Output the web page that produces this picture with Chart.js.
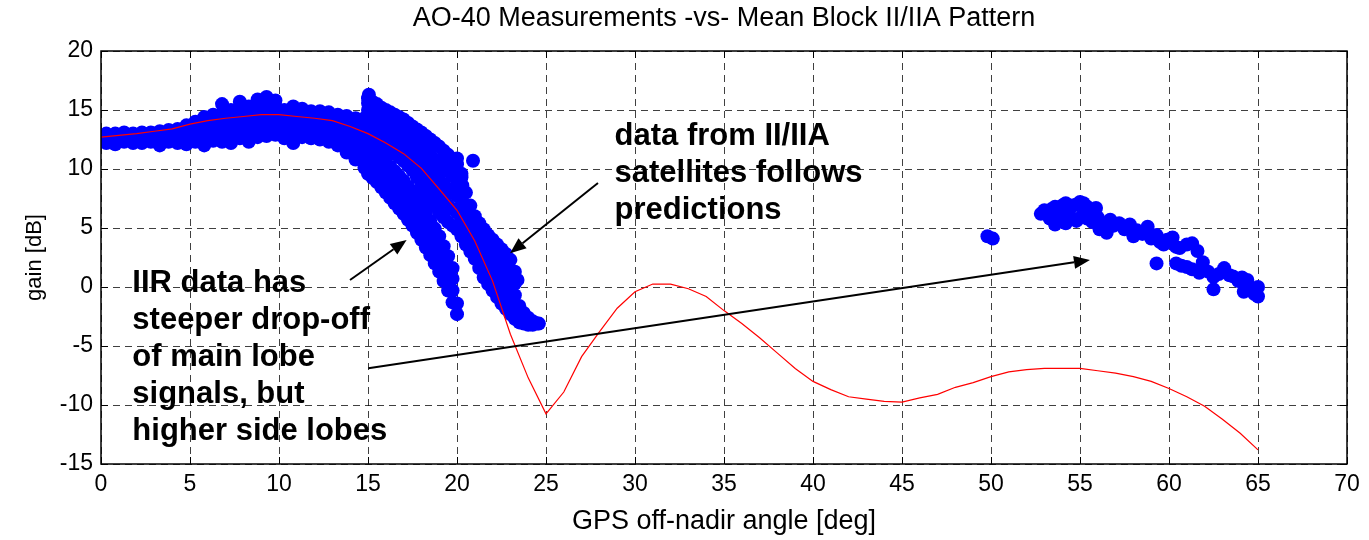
<!DOCTYPE html>
<html>
<head>
<meta charset="utf-8">
<title>AO-40 Measurements -vs- Mean Block II/IIA Pattern</title>
<script src="https://cdn.jsdelivr.net/npm/chart.js@4.4.0/dist/chart.umd.min.js"></script>
<style>
  html, body { margin: 0; padding: 0; background: #fff; }
  canvas { display: block; }
</style>
</head>
<body>
<canvas id="chart" width="1369" height="540"></canvas>
<script>
// mean Block II/IIA antenna pattern (red line), one value per degree
const patternAngle = [0, 1, 2, 3, 4, 5, 6, 7, 8, 9, 10, 11, 12, 13, 14, 15, 16, 17, 18, 19, 20,
  21, 22, 23, 24, 25, 26, 27, 28, 29, 30, 31, 32, 33, 34, 35, 36, 37, 38, 39, 40,
  41, 42, 43, 44, 45, 46, 47, 48, 49, 50, 51, 52, 53, 54, 55, 56, 57, 58, 59, 60,
  61, 62, 63, 64, 65];
const patternGain = [12.7, 12.85, 13.0, 13.2, 13.4, 13.8, 14.1, 14.3, 14.45, 14.6, 14.6,
  14.45, 14.3, 14.1, 13.6, 13.0, 12.2, 11.3, 10.05, 8.3, 6.5,
  3.9, 0.5, -4.0, -7.7, -10.75, -8.9, -5.9, -3.8, -1.8, -0.4,
  0.25, 0.25, -0.15, -0.8, -2.0, -3.1, -4.3, -5.6, -6.9, -8.0,
  -8.7, -9.3, -9.5, -9.7, -9.75, -9.4, -9.1, -8.5, -8.1, -7.6,
  -7.2, -7.0, -6.9, -6.9, -6.9, -7.1, -7.3, -7.6, -8.0, -8.6,
  -9.3, -10.1, -11.2, -12.4, -13.8];

// AO-40 measurements, main lobe: [angle, gain, gain, ...]
const mainLobe = [
  [0.3, 12.2, 12.7, 13.0], [0.8, 12.1, 12.6, 13.0], [1.3, 12.3, 12.7, 13.1],
  [1.8, 12.2, 12.6, 13.0], [2.3, 12.2, 12.7, 13.1], [2.8, 12.3, 12.7, 13.1],
  [3.3, 12.0, 12.6, 13.2], [3.8, 12.3, 12.8, 13.3], [4.3, 12.2, 12.8, 13.4],
  [4.8, 12.1, 12.7, 13.3, 13.7], [5.3, 12.3, 12.9, 13.5, 14.0],
  [5.8, 12.0, 12.6, 13.2, 13.8, 14.4], [6.3, 12.4, 13.0, 13.6, 14.2, 14.6],
  [6.8, 12.3, 12.9, 13.5, 14.1, 14.7, 15.5], [7.3, 12.2, 12.8, 13.4, 14.0, 14.6, 15.0],
  [7.8, 12.6, 13.2, 13.8, 14.4, 15.0, 15.7], [8.3, 12.3, 12.9, 13.5, 14.1, 14.7, 15.3],
  [8.8, 12.7, 13.3, 13.9, 14.5, 15.1, 15.9], [9.3, 12.8, 13.4, 14.0, 14.6, 15.2, 16.1],
  [9.8, 12.9, 13.5, 14.1, 14.7, 15.3, 15.8], [10.3, 12.6, 13.2, 13.8, 14.4, 15.0],
  [10.8, 12.2, 12.9, 13.5, 14.1, 14.7, 15.3], [11.3, 12.7, 13.3, 13.9, 14.5, 15.1],
  [11.8, 12.6, 13.2, 13.8, 14.4, 14.9], [12.3, 12.5, 13.1, 13.7, 14.3, 14.9],
  [12.8, 12.3, 12.9, 13.5, 14.1, 14.8], [13.3, 12.0, 12.7, 13.3, 13.9, 14.6],
  [13.8, 11.4, 12.1, 12.8, 13.5, 14.2, 14.5], [14.3, 10.8, 11.5, 12.2, 12.9, 13.6, 14.3],
  [14.8, 10.1, 10.8, 11.5, 12.2, 12.9, 13.6, 14.3]
];

// IIR satellites, steeper drop-off
const iirLobe = [
  [15.0, 9.6, 10.4, 11.2, 12.0], [15.25, 9.25, 10.0, 10.8, 11.6], [15.5, 8.9, 9.7, 10.5, 11.3],
  [15.75, 8.45, 9.2, 10.0, 10.9], [16.0, 8.0, 8.9, 9.7, 10.6], [16.25, 7.55, 8.4, 9.3, 10.2],
  [16.5, 7.1, 8.0, 8.9, 9.8], [16.75, 6.65, 7.5, 8.5, 9.4], [17.0, 6.2, 7.1, 8.0, 9.0],
  [17.25, 5.7, 6.6, 7.6, 8.5], [17.5, 5.2, 6.2, 7.1, 8.1], [17.75, 4.6, 5.5, 6.5, 7.5],
  [18.0, 4.0, 5.0, 5.9, 6.9], [18.25, 3.35, 4.3, 5.3, 6.25], [18.5, 2.7, 3.7, 4.6, 5.6],
  [18.75, 2.0, 3.0, 4.0, 4.95], [19.0, 1.3, 2.3, 3.3, 4.3], [19.25, 0.5, 1.5, 2.5, 3.45],
  [19.5, -0.3, 0.7, 1.7, 2.6], [19.75, -1.3, -0.3, 0.7, 1.6], [20.0, -2.3, -1.4]
];

// Block II/IIA satellites, follow the prediction
const blockLobe = [
  [15.0, 12.6, 13.4, 14.2, 15.0, 15.6, 16.0], [15.05, 16.3],
  [15.25, 12.4, 13.2, 14.0, 14.8, 15.7], [15.5, 12.2, 13.0, 13.8, 14.6, 15.5],
  [15.75, 12.0, 12.8, 13.6, 14.4, 15.2], [16.0, 11.8, 12.6, 13.4, 14.2, 15.0],
  [16.25, 11.5, 12.3, 13.1, 13.9, 14.8], [16.5, 11.3, 12.1, 12.9, 13.8, 14.6],
  [16.75, 11.0, 11.8, 12.7, 13.6, 14.4], [17.0, 10.7, 11.6, 12.4, 13.3, 14.2],
  [17.25, 10.3, 11.2, 12.1, 13.0, 13.9], [17.5, 9.9, 10.8, 11.8, 12.7, 13.6],
  [17.75, 9.3, 10.3, 11.3, 12.3, 13.35], [18.0, 8.6, 9.7, 10.8, 11.9, 13.1],
  [18.25, 8.0, 9.2, 10.4, 11.6, 12.8], [18.5, 7.4, 8.7, 10.0, 11.2, 12.5],
  [18.75, 6.85, 8.2, 9.5, 10.8, 12.2], [19.0, 6.3, 7.7, 9.1, 10.5, 11.9],
  [19.25, 5.9, 7.3, 8.7, 10.1, 11.55], [19.5, 5.5, 6.9, 8.3, 9.8, 11.2],
  [19.75, 5.2, 6.6, 8.0, 9.4, 10.8], [20.0, 4.9, 6.3, 7.7, 9.0, 10.4, 10.9],
  [20.25, 4.3, 5.6, 6.9, 8.1, 9.3, 9.6], [20.3, 8.6], [20.9, 10.7],
  [20.5, 3.6, 4.7, 5.8, 6.9, 8.0], [20.75, 3.0, 4.0, 5.0, 6.0, 6.9],
  [21.0, 2.4, 3.3, 4.2, 5.1, 6.0], [21.25, 1.6, 2.6, 3.5, 4.5, 5.4],
  [21.5, 0.8, 1.8, 2.9, 3.9, 4.9], [21.75, 0.25, 1.3, 2.3, 3.4, 4.4],
  [22.0, -0.3, 0.8, 1.9, 3.0, 4.0], [22.25, -0.85, 0.3, 1.4, 2.5, 3.6],
  [22.5, -1.4, -0.3, 0.9, 2.0, 3.2], [22.75, -1.85, -0.7, 0.5, 1.6, 2.8],
  [23.0, -2.3, -1.2, 0.0, 1.2, 2.3], [23.25, -2.7, -1.7, -0.7, 0.3, 1.3],
  [23.4, 0.6], [23.5, -3.0, -2.3, -1.6], [23.75, -3.1, -2.2], [24.0, -3.2, -2.6],
  [24.25, -3.2, -2.9], [24.5, -3.1], [24.6, -3.1]
];

// side lobe measurements
const sideLobeAngle = [49.8, 50.1,
  52.8, 53.0, 53.2, 53.4, 53.6, 53.8, 54.0, 54.2, 54.4, 54.6, 54.8, 55.0, 55.2, 55.4, 55.6, 55.9,
  53.3, 53.6, 53.9, 54.2, 54.5, 54.8, 55.1, 55.4, 55.7, 56.0, 56.1, 56.3, 56.5, 56.7, 56.9,
  57.2, 57.5, 57.8, 58.0, 58.2, 58.5, 58.8, 59.0, 59.3, 59.5, 59.7, 59.9, 60.2, 60.4, 60.6,
  61.0, 61.3, 61.6,
  59.3, 60.4, 60.7, 61.0, 61.3, 61.7, 61.9, 62.2, 62.5, 62.5, 62.8, 63.1, 63.4, 63.6, 63.9,
  64.1, 64.4, 64.2, 64.5, 64.7, 65.0, 65.0, 64.8];
const sideLobeGain = [4.3, 4.1,
  6.2, 6.5, 6.3, 6.6, 6.8, 6.4, 6.9, 7.1, 6.6, 6.9, 7.0, 7.2, 7.1, 6.8, 6.5, 6.7,
  5.8, 5.3, 5.8, 5.4, 5.9, 5.6, 6.0, 5.8, 5.5, 5.9, 4.9, 5.4, 4.6, 5.7, 5.2,
  5.4, 4.9, 5.3, 4.3, 4.8, 4.5, 5.1, 4.1, 4.4, 3.8, 3.6, 4.0, 4.2, 3.4, 3.3,
  3.6, 3.7, 3.05,
  2.0, 2.0, 1.8, 1.7, 1.5, 1.2, 2.1, 1.3, 0.85, -0.2, 1.1, 1.6, 1.0, 0.9, 0.5,
  0.8, 0.6, -0.4, 0.0, -0.2, -0.8, 0.0, -0.6];

const xTicks = [0, 5, 10, 15, 20, 25, 30, 35, 40, 45, 50, 55, 60, 65, 70];
const yTicks = [-15, -10, -5, 0, 5, 10, 15, 20];

function colsToPoints(cols) {
  const pts = [];
  cols.forEach(c => {
    for (let i = 1; i < c.length; i++) pts.push({ x: c[0], y: c[i] });
  });
  return pts;
}

const measured = colsToPoints(mainLobe)
  .concat(colsToPoints(iirLobe))
  .concat(colsToPoints(blockLobe))
  .concat(sideLobeAngle.map((a, i) => ({ x: a, y: sideLobeGain[i] })));

const pattern = patternAngle.map((a, i) => ({ x: a, y: patternGain[i] }));

// text + arrows, placed in data units
const notes = [
  { x: 28.85, y: 12.03, lines: ['data from II/IIA', 'satellites follows', 'predictions'] },
  { x: 1.76, y: -0.45, lines: ['IIR data has', 'steeper drop-off', 'of main lobe', 'signals, but', 'higher side lobes'] }
];
const arrows = [
  { from: [13.99, 0.59], to: [17.17, 3.98] },
  { from: [27.92, 8.81], to: [22.98, 2.86] },
  { from: [15.02, -6.89], to: [55.56, 2.29] }
];

const FONT = '"Liberation Sans", Arial, Helvetica, sans-serif';
Chart.defaults.font.family = FONT;
Chart.defaults.color = '#000';

const matlabAxes = {
  id: 'matlabAxes',
  afterDatasetsDraw(chart) {
    const { ctx, chartArea: a, scales: { x, y } } = chart;
    ctx.save();
    ctx.strokeStyle = '#000';
    ctx.lineWidth = 1;
    ctx.setLineDash([]);
    // inward ticks
    ctx.beginPath();
    xTicks.forEach(v => {
      const px = Math.round(x.getPixelForValue(v)) + 0.5;
      ctx.moveTo(px, a.bottom); ctx.lineTo(px, a.bottom - 7);
      ctx.moveTo(px, a.top); ctx.lineTo(px, a.top + 7);
    });
    yTicks.forEach(v => {
      const py = Math.round(y.getPixelForValue(v)) + 0.5;
      ctx.moveTo(a.left, py); ctx.lineTo(a.left + 7, py);
      ctx.moveTo(a.right, py); ctx.lineTo(a.right - 7, py);
    });
    ctx.stroke();
    ctx.lineWidth = 1.5;
    ctx.strokeRect(a.left, a.top, a.right - a.left, a.bottom - a.top);

    // arrows
    ctx.fillStyle = '#000';
    ctx.lineWidth = 2;
    arrows.forEach(ar => {
      const x0 = x.getPixelForValue(ar.from[0]), y0 = y.getPixelForValue(ar.from[1]);
      const x1 = x.getPixelForValue(ar.to[0]), y1 = y.getPixelForValue(ar.to[1]);
      const ang = Math.atan2(y1 - y0, x1 - x0);
      const len = 16, half = 6.5;
      const bx = x1 - len * Math.cos(ang), by = y1 - len * Math.sin(ang);
      ctx.beginPath();
      ctx.moveTo(x0, y0);
      ctx.lineTo(bx, by);
      ctx.stroke();
      ctx.beginPath();
      ctx.moveTo(x1, y1);
      ctx.lineTo(bx + half * Math.sin(ang), by - half * Math.cos(ang));
      ctx.lineTo(bx - half * Math.sin(ang), by + half * Math.cos(ang));
      ctx.closePath();
      ctx.fill();
    });

    // annotation text
    ctx.font = 'bold 31px ' + FONT;
    ctx.textAlign = 'left';
    ctx.textBaseline = 'alphabetic';
    notes.forEach(n => {
      const px = x.getPixelForValue(n.x), py = y.getPixelForValue(n.y);
      n.lines.forEach((t, i) => ctx.fillText(t, px, py + i * 37));
    });
    ctx.restore();
  }
};

const ctx = document.getElementById('chart').getContext('2d');
new Chart(ctx, {
  type: 'scatter',
  data: {
    datasets: [
      {
        type: 'line',
        label: 'Mean Block II/IIA pattern',
        data: pattern,
        borderColor: '#ff0000',
        borderWidth: 1.2,
        pointRadius: 0,
        tension: 0,
        fill: false,
        order: 0
      },
      {
        type: 'scatter',
        label: 'AO-40 measurements',
        data: measured,
        backgroundColor: '#0000ff',
        borderWidth: 0,
        pointRadius: 7,
        order: 1
      }
    ]
  },
  options: {
    responsive: false,
    animation: false,
    layout: { padding: { left: 0, right: 22, top: 0, bottom: 0 } },
    plugins: {
      legend: { display: false },
      tooltip: { enabled: false },
      title: {
        display: true,
        fullSize: false,
        text: 'AO-40 Measurements -vs- Mean Block II/IIA Pattern',
        color: '#000',
        font: { size: 27, weight: 'normal' },
        padding: { top: 2, bottom: 16.6 }
      }
    },
    scales: {
      x: {
        type: 'linear',
        min: 0,
        max: 70,
        afterFit(s) { s.height = 76; },
        afterBuildTicks(s) { s.ticks = xTicks.map(v => ({ value: v })); },
        ticks: { font: { size: 23 }, padding: 7, maxRotation: 0, autoSkip: false },
        grid: { color: 'rgba(0,0,0,0.75)', lineWidth: 1, drawTicks: false },
        border: { display: false, dash: [7, 5] },
        title: {
          display: true,
          text: 'GPS off-nadir angle [deg]',
          font: { size: 27 },
          padding: { top: 0, bottom: 2 }
        }
      },
      y: {
        type: 'linear',
        min: -15,
        max: 20,
        afterFit(s) { s.width = 101; },
        afterBuildTicks(s) { s.ticks = yTicks.map(v => ({ value: v })); },
        ticks: { font: { size: 23 }, padding: 8 },
        grid: { color: 'rgba(0,0,0,0.75)', lineWidth: 1, drawTicks: false },
        border: { display: false, dash: [7, 5] },
        title: {
          display: true,
          text: 'gain [dB]',
          font: { size: 22 },
          padding: { top: 22, bottom: 0 }
        }
      }
    }
  },
  plugins: [matlabAxes]
});
</script>
</body>
</html>
